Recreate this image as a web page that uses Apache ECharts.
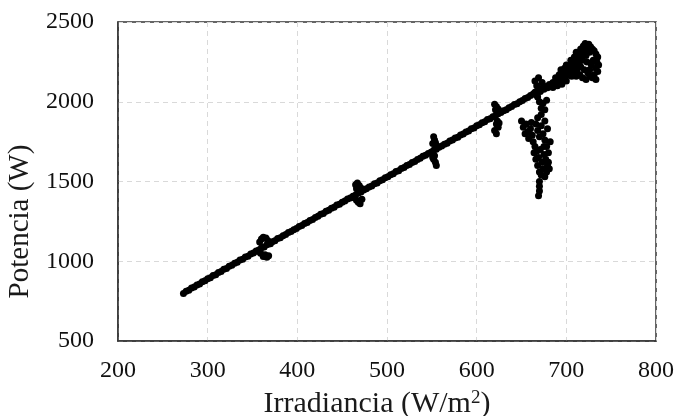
<!DOCTYPE html>
<html>
<head>
<meta charset="utf-8">
<script src="https://cdn.jsdelivr.net/npm/echarts@6/dist/echarts.min.js"></script>
<style>
  html, body { margin: 0; padding: 0; background: #fff; }
  #chart { width: 677px; height: 416px; }
</style>
</head>
<body>
<div id="chart"></div>
<script>
// axis ticks
const xTicks = { min: 200, max: 800, step: 100 };
const yTicks = { min: 500, max: 2500, step: 500 };

// [irradiancia W/m2, potencia W]
const mainTrend = [
  [273, 798], [276, 812], [279, 818], [282, 832], [285, 838], [288, 851], [291, 858], [294, 872],
  [297, 878], [300, 890], [303, 897], [306, 910], [309, 916], [312, 930], [315, 935], [318, 950],
  [321, 955], [324, 968], [327, 975], [330, 988], [333, 994], [336, 1008], [339, 1013], [342, 1026],
  [345, 1032], [348, 1046], [351, 1052], [354, 1064], [357, 1071], [360, 1084], [363, 1090], [366, 1103],
  [369, 1110], [372, 1122], [375, 1128], [378, 1142], [381, 1148], [384, 1160], [387, 1167], [390, 1180],
  [393, 1186], [396, 1198], [399, 1206], [402, 1218], [405, 1224], [408, 1237], [411, 1243], [414, 1256],
  [417, 1262], [420, 1275], [423, 1282], [426, 1294], [429, 1300], [432, 1313], [435, 1320], [438, 1332],
  [441, 1338], [444, 1352], [447, 1358], [450, 1370], [453, 1377], [456, 1390], [459, 1396], [462, 1408],
  [465, 1416], [468, 1428], [471, 1434], [474, 1447], [477, 1454], [480, 1466], [483, 1472], [486, 1486],
  [489, 1491], [492, 1504], [495, 1511], [498, 1524], [501, 1530], [504, 1543], [507, 1549], [510, 1562],
  [513, 1568], [516, 1581], [519, 1588], [522, 1600], [525, 1606], [528, 1619], [531, 1626], [534, 1638],
  [537, 1645], [540, 1658], [543, 1664], [546, 1676], [549, 1683], [552, 1696], [555, 1702], [558, 1715],
  [561, 1722], [564, 1734], [567, 1740], [570, 1754], [573, 1760], [576, 1772], [579, 1778], [582, 1792],
  [585, 1798], [588, 1810], [591, 1817], [594, 1830], [597, 1836], [600, 1849], [603, 1856], [606, 1868],
  [609, 1874], [612, 1888], [615, 1894], [618, 1906], [621, 1912], [624, 1925], [627, 1932], [630, 1944],
  [633, 1950], [636, 1963], [639, 1970], [642, 1982], [645, 1988], [648, 2000], [651, 2008], [654, 2020],
  [657, 2026], [660, 2039]
];

const smallSpikes = [
  [358, 1120], [360, 1140], [362, 1150], [365, 1145], [367, 1130], [364, 1040], [362, 1030], [366, 1025],
  [368, 1035], [359, 1050], [370, 1110], [356, 1062],
  [465, 1480], [467, 1490], [469, 1475], [471, 1460], [466, 1455], [468, 1370], [470, 1360], [466, 1382],
  [472, 1388], [464, 1396],
  [552, 1780], [553, 1760], [554, 1745], [555, 1725], [551, 1738], [553, 1662], [552, 1640], [554, 1620],
  [555, 1600], [551, 1650],
  [620, 1985], [622, 1970], [624, 1955], [621, 1950], [623, 1880], [622, 1860], [624, 1840], [620, 1820],
  [622, 1800], [625, 1866]
];

const dropCluster = [
  [665, 2130], [667, 2100], [669, 2150], [671, 2080], [666, 2060], [673, 2120], [670, 2000], [672, 1960],
  [674, 1990], [676, 1950], [668, 2030], [678, 2010],
  [650, 1880], [652, 1840], [655, 1860], [657, 1810], [660, 1830], [662, 1790], [658, 1770], [663, 1750],
  [666, 1860], [668, 1820], [670, 1780], [672, 1850], [674, 1800], [676, 1760], [678, 1720], [665, 1720],
  [667, 1690], [669, 1650], [671, 1700], [673, 1620], [675, 1670], [677, 1640], [679, 1600], [681, 1580],
  [668, 1600], [670, 1560], [672, 1540], [674, 1580], [676, 1530], [678, 1560], [664, 1680], [666, 1640],
  [670, 1500], [670, 1470], [670, 1440], [669, 1410], [680, 1680], [682, 1750], [668, 1900], [672, 1920],
  [676, 1880], [679, 1830], [654, 1800], [661, 1870], [675, 1720], [680, 1620]
];

const topCloud = [
  [663, 2048], [665, 2060], [667, 2040], [669, 2072], [671, 2064], [673, 2085], [675, 2078], [677, 2095],
  [679, 2088], [681, 2108], [683, 2100], [685, 2120], [687, 2112], [689, 2135], [691, 2128], [693, 2148],
  [695, 2140], [697, 2165], [699, 2158], [701, 2175], [703, 2168], [685, 2090], [690, 2100], [695, 2110],
  [700, 2130], [688, 2150], [692, 2170], [697, 2190],
  [702, 2200], [704, 2230], [706, 2210], [708, 2250], [710, 2225], [712, 2270], [714, 2240], [716, 2290],
  [718, 2260], [720, 2320], [722, 2290], [724, 2340], [726, 2310], [719, 2350], [721, 2365], [723, 2355],
  [725, 2360], [727, 2345], [729, 2330], [731, 2320], [733, 2300], [735, 2280], [734, 2250], [736, 2230],
  [733, 2210], [735, 2190], [731, 2170], [729, 2150], [733, 2140], [726, 2200], [724, 2180], [720, 2200],
  [716, 2220], [712, 2200], [708, 2180], [706, 2160], [711, 2160], [715, 2170], [718, 2150], [722, 2140],
  [727, 2160], [730, 2260], [728, 2230], [717, 2310], [713, 2290], [709, 2280], [705, 2260], [700, 2230],
  [698, 2210], [694, 2200], [723, 2250], [716, 2330], [711, 2310]
];

const serif = '"Liberation Serif", "DejaVu Serif", serif';
const chart = echarts.init(document.getElementById('chart'), null, { renderer: 'canvas' });

const gridLine = { show: true, lineStyle: { color: '#d9d9d9', type: [5, 4], width: 1 } };
const axisLine = { show: true, lineStyle: { color: '#333', width: 1.5 } };

const dots = (data) => ({
  type: 'scatter',
  data: data,
  symbol: 'circle',
  symbolSize: 7,
  itemStyle: { color: '#000', opacity: 1 },
  silent: true,
  animation: false
});

chart.setOption({
  backgroundColor: '#fff',
  animation: false,
  grid: {
    left: 118, right: 21, top: 22, bottom: 75,
    outerBoundsMode: 'none',
    containLabel: false,
    show: true, borderColor: '#333', borderWidth: 1.5
  },
  xAxis: {
    type: 'value',
    min: xTicks.min, max: xTicks.max, interval: xTicks.step,
    name: 'Irradiancia (W/m{sup|2})',
    nameLocation: 'middle',
    nameGap: 48,
    nameTextStyle: {
      fontFamily: serif, fontSize: 30, color: '#1a1a1a', padding: [0, 20, 0, 0],
      rich: { sup: { fontFamily: serif, fontSize: 19, color: '#1a1a1a', verticalAlign: 'top', padding: [0, 0, 12, 0] } }
    },
    axisLine: axisLine,
    axisTick: { show: false },
    axisLabel: { fontFamily: serif, fontSize: 24, color: '#111', margin: 18, formatter: (v) => String(v) },
    splitLine: gridLine
  },
  yAxis: {
    type: 'value',
    min: yTicks.min, max: yTicks.max, interval: yTicks.step,
    name: 'Potencia (W)',
    nameLocation: 'middle',
    nameGap: 80,
    nameRotate: 90,
    nameTextStyle: { fontFamily: serif, fontSize: 29, color: '#1a1a1a', padding: [0, 80, 0, 0] },
    axisLine: axisLine,
    axisTick: { show: false },
    axisLabel: { fontFamily: serif, fontSize: 24, color: '#111', margin: 24, formatter: (v) => String(v) },
    splitLine: gridLine
  },
  series: [dots(mainTrend), dots(smallSpikes), dots(dropCluster), dots(topCloud)]
});
</script>
</body>
</html>
